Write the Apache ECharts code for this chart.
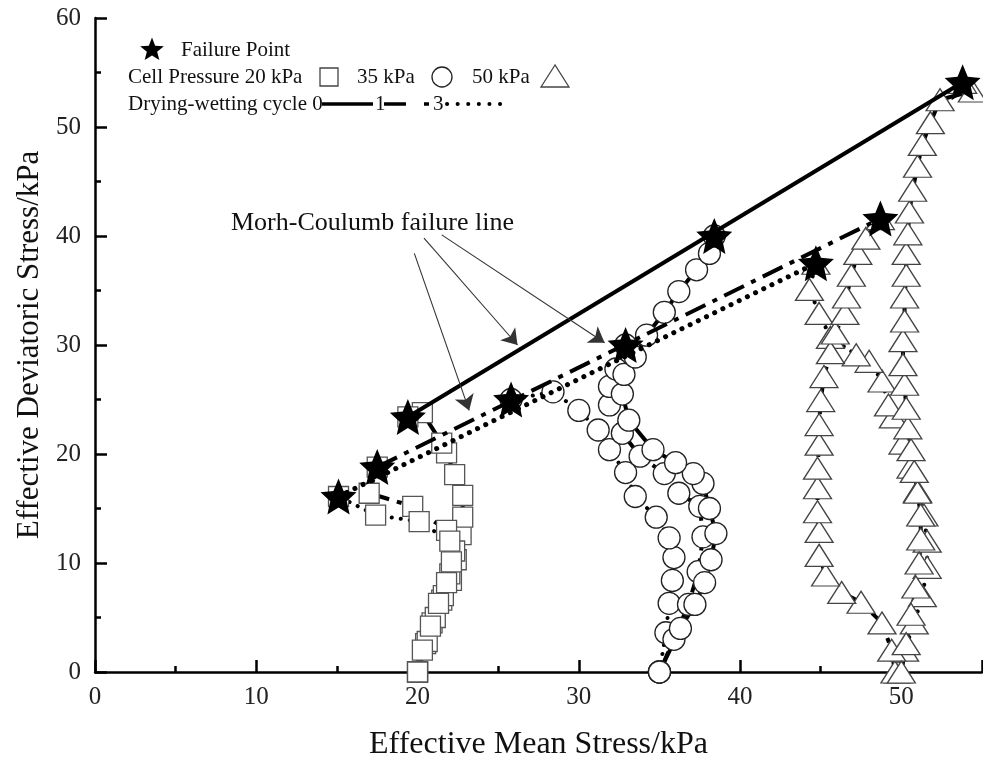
<!DOCTYPE html>
<html><head><meta charset="utf-8">
<script src="https://cdn.jsdelivr.net/npm/echarts@6/dist/echarts.min.js"></script>
<style>html,body{margin:0;padding:0;background:#fff}#c{width:983px;height:760px}</style>
</head><body><div id="c"></div>
<script>
// ---- data ----
const xTickValues = [0, 10, 20, 30, 40, 50];
const yTickValues = [0, 10, 20, 30, 40, 50, 60];

// Cell pressure 20 kPa (squares)
const p20c0 = [[20.0,0],[20.5,2.6],[20.9,4.5],[21.5,6.6],[22.1,8.4],[22.4,10.3],[22.7,12.6],[22.8,14.2],[22.8,16.2],[22.3,18.1],[21.8,20.1],[21.5,21.0],[20.3,23.8],[19.4,23.4]];
const p20c1 = [[20.0,0],[20.6,2.8],[21.1,5.0],[21.6,7.0],[22.0,9.0],[22.3,11.1],[21.8,13.0],[19.7,15.2],[17.0,16.4],[17.5,18.8]];
const p20c3 = [[20.0,0],[20.3,2.0],[20.8,4.2],[21.3,6.3],[21.8,8.2],[22.1,10.1],[22.0,12.0],[20.1,13.8],[17.4,14.4],[15.1,16.1]];

// Cell pressure 35 kPa (circles)
const p35c0 = [[35.0,0],[36.3,4.0],[37.2,6.2],[37.8,8.2],[38.2,10.3],[38.5,12.7],[38.1,15.0],[37.7,17.3],[37.1,18.2],[36.0,19.2],[34.6,20.4],[33.1,23.1],[32.7,25.5],[32.8,27.3],[33.5,28.9],[34.2,30.9],[35.3,33.0],[36.2,34.9],[37.3,36.9],[38.1,38.4],[38.4,40.0]];
const p35c1 = [[35.0,0],[35.9,3.0],[36.8,6.2],[37.4,9.2],[37.7,12.4],[37.5,15.2],[36.2,16.4],[35.3,18.2],[33.8,19.8],[32.7,21.9],[31.9,24.5],[31.9,26.2],[32.3,27.8],[32.9,30.0]];
const p35c3 = [[35.0,0],[35.4,3.6],[35.6,6.3],[35.8,8.4],[35.9,10.5],[35.6,12.3],[34.8,14.2],[33.5,16.1],[32.9,18.3],[31.9,20.4],[31.2,22.2],[30.0,24.0],[28.4,25.7],[25.8,25.0]];

// Cell pressure 50 kPa (triangles)
const p50c0 = [[50.0,0],[50.3,2.6],[50.6,5.3],[50.9,7.8],[51.1,10.0],[51.2,12.2],[51.2,14.4],[51.0,16.5],[50.8,18.4],[50.6,20.4],[50.4,22.4],[50.3,24.2],[50.2,26.4],[50.1,28.2],[50.1,30.4],[50.2,32.2],[50.2,34.4],[50.3,36.4],[50.3,38.4],[50.4,40.2],[50.5,42.2],[50.7,44.2],[51.0,46.4],[51.3,48.4],[51.8,50.4],[52.4,52.5],[54.4,53.3],[53.8,54.1]];
const p50c1 = [[49.6,0],[49.4,2.0],[48.8,4.5],[47.5,6.4],[46.3,7.3],[45.3,8.9],[44.9,10.7],[44.9,12.9],[44.8,14.7],[44.8,16.9],[44.8,18.7],[44.9,20.9],[44.9,22.7],[45.0,24.9],[45.2,27.1],[45.6,29.3],[45.9,31.1],[46.5,32.9],[46.6,34.4],[46.9,36.4],[47.3,38.4],[47.8,39.8],[48.7,41.6]];
const p50c3 = [[49.8,0],[50.2,2.0],[50.8,4.5],[51.3,7.0],[51.6,9.6],[51.6,12.0],[51.4,14.4],[51.0,16.6],[50.6,18.8],[50.1,21.0],[49.5,23.4],[49.2,24.5],[48.8,26.7],[48.0,28.5],[47.2,29.1],[45.6,30.7],[44.9,32.9],[44.3,35.1],[44.7,37.5]];

// Failure lines (Mohr-Coulomb) per drying-wetting cycle
const failLine0 = [[19.4,23.4],[53.8,54.1]];
const failLine1 = [[17.5,18.8],[48.7,41.6]];
const failLine3 = [[15.1,16.1],[44.7,37.5]];

// Failure points
const failurePoints = [[19.4,23.4],[17.5,18.8],[15.1,16.1],[38.4,40.0],[32.9,30.0],[25.8,25.0],[53.8,54.1],[48.7,41.6],[44.7,37.5]];

// Annotation arrows (start -> end, data coordinates)
const annotationArrows = [
  [[19.8,38.4],[23.2,24.0]],
  [[20.4,39.8],[26.2,30.0]],
  [[21.5,40.1],[31.6,30.2]]
];
const annotationText = 'Morh-Coulumb failure line';

// ---- styles ----
const FONT = '"Liberation Serif", "DejaVu Serif", serif';
const dashSolid = 'solid';
const dashDot = [22, 8, 5, 8];
const dotted = [0.1, 9];
const STAR = 'path://M0,-10 L2.7,-3.7 L9.511,-3.09 L4.35,1.41 L5.878,8.09 L0,4.57 L-5.878,8.09 L-4.35,1.41 L-9.511,-3.09 L-2.7,-3.7 Z';

function pathSeries(data, symbol, size, border, dash) {
  return {
    type: 'line', data: data, symbol: symbol, symbolSize: size,
    showSymbol: true, silent: true, z: 2,
    emphasis: { disabled: true },
    itemStyle: { color: '#fff', borderColor: border, borderWidth: 1.3 },
    lineStyle: { color: '#000', width: 4, type: dash, cap: dash === dotted ? 'round' : 'butt' }
  };
}
function failSeries(data, dash, width) {
  return {
    type: 'line', data: data, symbol: 'none', silent: true, z: 4,
    emphasis: { disabled: true },
    lineStyle: { color: '#000', width: width, type: dash, cap: dash === dotted ? 'round' : 'butt' }
  };
}

const SQ = 20, CI = 22, TR = [28, 22];

const series = [
  pathSeries(p20c0, 'rect', SQ, '#555', dashSolid),
  pathSeries(p20c1, 'rect', SQ, '#555', dashDot),
  pathSeries(p20c3, 'rect', SQ, '#555', dotted),
  pathSeries(p35c3, 'circle', CI, '#222', dotted),
  pathSeries(p35c1, 'circle', CI, '#222', dashDot),
  pathSeries(p35c0, 'circle', CI, '#222', dashSolid),
  pathSeries(p50c3, 'triangle', TR, '#444', dotted),
  pathSeries(p50c1, 'triangle', TR, '#444', dashDot),
  pathSeries(p50c0, 'triangle', TR, '#444', dashSolid),
  failSeries(failLine0, dashSolid, 4),
  failSeries(failLine1, dashDot, 4),
  failSeries(failLine3, dotted, 5),
  {
    type: 'scatter', data: failurePoints, symbol: STAR, symbolSize: 36, z: 6, silent: true,
    emphasis: { disabled: true }, itemStyle: { color: '#000', opacity: 1 }
  },
  {
    type: 'lines', coordinateSystem: 'cartesian2d', z: 5, silent: true,
    data: annotationArrows.map(a => ({ coords: a })),
    symbol: ['none', 'arrow'], symbolSize: 15,
    lineStyle: { color: '#333', width: 1.1, curveness: 0, opacity: 1 }
  }
];

// ---- legend graphics ----
function starPoints(cx, cy, R, r) {
  const pts = [];
  for (let k = 0; k < 10; k++) {
    const ang = (-90 + k * 36) * Math.PI / 180;
    const rr = k % 2 === 0 ? R : r;
    pts.push([cx + rr * Math.cos(ang), cy + rr * Math.sin(ang)]);
  }
  return pts;
}
function txt(text, x, y, size) {
  return { type: 'text', silent: true, z: 10, style: {
    text: text, x: x, y: y, font: size + 'px ' + FONT, fill: '#111',
    textAlign: 'left', textVerticalAlign: 'middle', align: 'left', verticalAlign: 'middle' } };
}
const LF = 21;
const graphics = [
  { type: 'polygon', silent: true, z: 10, shape: { points: starPoints(152, 50, 12.5, 5.4) }, style: { fill: '#000' } },
  txt('Failure Point', 181, 50, LF),
  txt('Cell Pressure 20 kPa', 128, 77, LF),
  { type: 'rect', silent: true, z: 10, shape: { x: 320, y: 68, width: 18, height: 18 }, style: { fill: '#fff', stroke: '#444', lineWidth: 1.3 } },
  txt('35 kPa', 357, 77, LF),
  { type: 'circle', silent: true, z: 10, shape: { cx: 442, cy: 77, r: 10 }, style: { fill: '#fff', stroke: '#222', lineWidth: 1.3 } },
  txt('50 kPa', 472, 77, LF),
  { type: 'polygon', silent: true, z: 10, shape: { points: [[555, 65], [541, 87], [569, 87]] }, style: { fill: '#fff', stroke: '#444', lineWidth: 1.3 } },
  txt('Drying-wetting cycle 0', 128, 104, LF),
  { type: 'line', silent: true, z: 10, shape: { x1: 322, y1: 104, x2: 373, y2: 104 }, style: { stroke: '#000', lineWidth: 3.5 } },
  txt('1', 375, 104, LF),
  { type: 'line', silent: true, z: 10, shape: { x1: 384, y1: 104, x2: 430, y2: 104 }, style: { stroke: '#000', lineWidth: 3.5, lineDash: [22, 18, 5, 100] } },
  txt('3', 433, 104, LF),
  { type: 'line', silent: true, z: 10, shape: { x1: 447, y1: 104, x2: 503, y2: 104 }, style: { stroke: '#000', lineWidth: 4, lineDash: [0.1, 10.5], lineCap: 'round' } },
  txt(annotationText, 231, 223, 26)
];

const chart = echarts.init(document.getElementById('c'), null, { renderer: 'canvas' });
chart.setOption({
  animation: false,
  backgroundColor: '#fff',
  grid: { left: 95, right: 1, top: 18, bottom: 88, containLabel: false, outerBoundsMode: 'none' },
  xAxis: [{
    type: 'value', min: 0, max: 55, interval: 10,
    axisLine: { show: true, onZero: false, lineStyle: { color: '#000', width: 2.5 } },
    axisTick: { show: true, inside: true, length: 12, lineStyle: { color: '#000', width: 2.5 } },
    splitLine: { show: false },
    axisLabel: { fontFamily: FONT, fontSize: 25, color: '#222', margin: 13,
      formatter: v => (xTickValues.indexOf(v) >= 0 ? String(v) : '') },
    name: 'Effective Mean Stress/kPa', nameLocation: 'middle', nameGap: 57,
    nameTextStyle: { fontFamily: FONT, fontSize: 32, color: '#111' }
  }, {
    type: 'value', min: 0, max: 55, interval: 5, position: 'bottom',
    axisLine: { show: false }, splitLine: { show: false }, axisLabel: { show: false },
    axisTick: { show: true, inside: true, length: 6, lineStyle: { color: '#000', width: 2.5 } }
  }],
  yAxis: {
    type: 'value', min: 0, max: 60, interval: 10,
    axisLine: { show: true, onZero: false, lineStyle: { color: '#000', width: 2.5 } },
    axisTick: { show: true, inside: true, length: 12, lineStyle: { color: '#000', width: 2.5 } },
    minorTick: { show: true, splitNumber: 2, length: 6, lineStyle: { color: '#000', width: 2.5 } },
    splitLine: { show: false }, minorSplitLine: { show: false },
    axisLabel: { fontFamily: FONT, fontSize: 25, color: '#222', margin: 14,
      formatter: v => (yTickValues.indexOf(v) >= 0 ? String(v) : '') },
    name: 'Effective Deviatoric Stress/kPa', nameLocation: 'middle', nameGap: 50,
    nameTextStyle: { fontFamily: FONT, fontSize: 31, color: '#111' }
  },
  series: series,
  graphic: graphics
});
</script></body></html>
